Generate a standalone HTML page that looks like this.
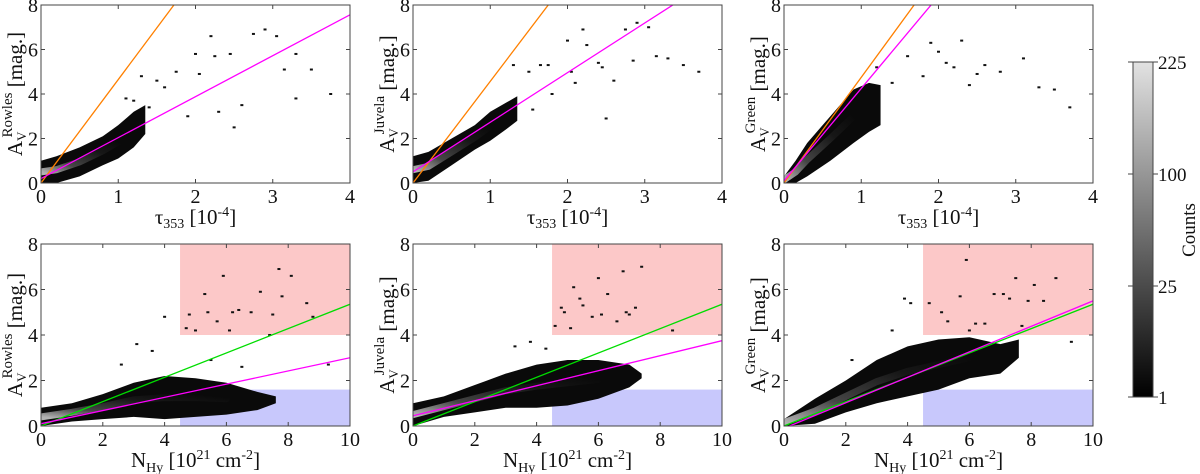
<!DOCTYPE html>
<html><head><meta charset="utf-8"><style>
body{margin:0;background:#fff;}
svg{display:block;font-family:"Liberation Serif",serif;}
</style></head><body>
<svg id="fig" width="1200" height="474" viewBox="0 0 1200 474">
<defs><linearGradient id="cb" x1="0" y1="1" x2="0" y2="0"><stop offset="0" stop-color="#000"/><stop offset="1" stop-color="#e2e2e2"/></linearGradient>
<linearGradient id="core" x1="0" y1="1" x2="1" y2="0"><stop offset="0" stop-color="#ddd"/><stop offset="0.3" stop-color="#555"/><stop offset="0.7" stop-color="#1a1a1a"/><stop offset="1" stop-color="#0a0a0a"/></linearGradient></defs>
</svg>
<script>
// ---- data ----
const panelNames=["Rowles","Juvela","Green","Rowles","Juvela","Green"];
const xMax=[4,4,4,10,10,10];
// band envelope: x, lower y, upper y
const bandX=[[0,0.2,0.5,0.8,1.0,1.2,1.35],[0,0.2,0.5,0.8,1.0,1.2,1.35],[0,0.15,0.3,0.6,0.9,1.1,1.25],[0,1,2,3,4,5,6,7,7.6],[0,1,2,3,4,5,6,7,7.4],[0,1,2,3,4,5,6,7,7.6]];
const bandLo=[[0,0,0.3,0.8,1.1,1.6,2.2],[0,0.1,0.8,1.5,1.9,2.4,2.8],[0,0,0.3,1.0,1.8,2.3,2.6],[0,0.2,0.3,0.4,0.3,0.4,0.5,0.7,1.0],[0,0.4,0.6,0.8,0.8,0.9,1.2,1.7,2.1],[0,0.1,0.6,1.0,1.3,1.6,2.1,2.3,3.0]];
const bandHi=[[1.0,1.2,1.6,2.1,2.6,3.2,3.5],[1.2,1.4,2.0,2.6,3.2,3.6,3.9],[0.3,1.0,1.8,3.0,4.2,4.5,4.4],[0.8,1.0,1.4,1.9,2.2,2.1,1.9,1.5,1.3],[1.0,1.3,1.8,2.3,2.7,2.9,2.9,2.7,2.3],[0.3,1.2,2.0,2.9,3.5,3.8,3.9,3.6,3.8]];
// outlier points
const ptX=[[1.1,1.3,1.5,1.6,1.75,2.0,2.05,2.2,2.25,2.45,2.5,2.6,2.75,2.9,3.05,3.15,3.3,3.3,3.5,3.75,1.9,1.2,1.4,2.3],[1.3,1.5,1.65,1.8,2.0,2.05,2.2,2.25,2.4,2.45,2.6,2.75,2.85,2.9,3.05,3.15,3.3,3.5,3.7,2.5,2.1,1.75,1.55],[1.2,1.4,1.6,1.8,2.0,2.1,2.3,2.5,2.6,2.8,3.1,3.3,3.5,1.9,2.2,2.4,3.7],[4.0,4.8,5.0,5.3,5.4,5.9,6.2,6.4,6.8,7.1,7.5,7.7,7.8,8.1,8.6,8.8,5.7,6.1,4.7,7.4,9.3,3.1,3.6,2.6,5.5,6.5],[4.6,4.9,5.2,5.5,5.8,6.0,6.3,6.6,6.9,7.2,7.4,5.1,5.4,6.8,7.0,8.4,4.8,6.1,3.3,3.8,4.3],[3.9,4.1,4.7,5.1,5.7,5.9,6.2,6.5,6.8,7.1,7.3,7.5,7.9,8.1,8.4,8.8,5.3,6.0,7.7,9.3,2.2,3.5]];
const ptY=[[3.8,4.8,4.6,4.3,5.0,5.8,4.9,6.6,5.7,5.8,2.5,3.5,6.7,6.9,6.6,5.1,5.8,3.8,5.1,4.0,3.0,3.7,3.4,3.2],[5.3,5.0,5.3,4.0,6.4,5.0,6.9,6.2,5.4,5.2,4.6,6.9,5.5,7.2,7.0,5.7,5.6,5.3,5.0,2.9,4.5,5.3,3.3],[5.2,4.5,5.7,4.8,5.9,5.4,6.4,4.9,5.3,5.0,5.6,4.3,4.2,6.3,5.2,4.4,3.4],[4.8,4.9,4.2,5.8,5.0,6.6,5.0,5.1,5.0,5.9,4.9,6.9,5.7,6.6,5.4,4.8,4.6,4.2,4.3,4.0,2.7,3.6,3.3,2.7,2.9,2.6],[4.4,5.0,6.1,5.3,4.8,6.5,5.8,4.6,5.0,5.2,7.0,4.3,5.6,6.8,4.9,4.2,5.2,4.9,3.5,3.7,3.4],[5.6,5.4,5.4,5.0,5.7,7.3,4.5,4.5,5.8,5.8,5.6,6.5,5.5,6.2,5.5,6.5,4.6,4.2,4.4,3.7,2.9,4.2]];
// fit lines: [slope, intercept]
const orangeFit=[[4.65,0],[4.57,0],[4.75,0],null,null,null];
const magentaFit=[[1.84,0.2],[2.23,0.5],[4.15,0.1],[0.29,0.1],[0.33,0.45],[0.56,-0.1]];
const greenFit=[null,null,null,[0.535,0],[0.535,0],[0.535,0]];
const xTicks=[[0,1,2,3,4],[0,2,4,6,8,10]];
const yTicks=[0,2,4,6,8];
const cbTicks=["225","100","25","1"];

// ---- drawing ----
const NS="http://www.w3.org/2000/svg",svg=document.getElementById("fig");
function mk(tag,at,parent){const e=document.createElementNS(NS,tag);for(const k in at)e.setAttribute(k,at[k]);(parent||svg).appendChild(e);return e;}
const colX=[41,413,784],W=309,rowY=[[5,183],[244,426]];
for(let p=0;p<6;p++){
  const c=p%3,r=Math.floor(p/3),x0=colX[c],yT=rowY[r][0],yB=rowY[r][1],xm=xMax[p];
  const sx=v=>x0+v/xm*W, sy=v=>yB-v/8*(yB-yT);
  const g=mk("g",{});
  
  
  const clip=mk("clipPath",{id:"c"+p},g);mk("rect",{x:x0,y:yT,width:W,height:yB-yT},clip);
  const pg=mk("g",{"clip-path":"url(#c"+p+")"},g);
  if(r===1){
    const red=mk("rect",{x:sx(4.5),y:sy(8),width:sx(10)-sx(4.5),height:sy(4)-sy(8),fill:"#fcc8c8"},pg);
    
    
    const blue=mk("rect",{x:sx(4.5),y:sy(1.6),width:sx(10)-sx(4.5),height:sy(0)-sy(1.6),fill:"#c8c8fc"},pg);
    
    
  }
  let pts=[];
  for(let i=0;i<bandX[p].length;i++)pts.push(sx(bandX[p][i])+","+sy(bandHi[p][i]));
  for(let i=bandX[p].length-1;i>=0;i--)pts.push(sx(bandX[p][i])+","+sy(bandLo[p][i]));
  const band=mk("polygon",{points:pts.join(" "),fill:"#0a0a0a"},pg);
  
  
  let mid=[];const n=bandX[p].length;
  for(let i=0;i<n-2;i++)mid.push(sx(bandX[p][i])+","+sy((bandLo[p][i]+bandHi[p][i])/2));
  const core=mk("polyline",{points:mid.join(" "),fill:"none",stroke:"url(#core)","stroke-width":7,"stroke-linecap":"round",opacity:0.8},pg);
  
  
  for(let i=0;i<ptX[p].length;i++){
    const d=mk("rect",{x:sx(ptX[p][i])-1.5,y:sy(ptY[p][i])-1,width:3,height:2,fill:"#111"},pg);
    
    
  }
  const fits=[[orangeFit[p],"#ff8000","orange-fit-line"],[magentaFit[p],"#ff00ff","magenta-fit-line"],[greenFit[p],"#00dd00","green-fit-line"]];
  if(r===1)fits.reverse();
  for(const [f,col,nm] of fits){ if(!f)continue;
    const l=mk("line",{x1:sx(0),y1:sy(f[1]),x2:sx(xm),y2:sy(f[1]+f[0]*xm),stroke:col,"stroke-width":1.3},pg);
    
    
  }
  const fr=mk("rect",{x:x0,y:yT,width:W,height:yB-yT,fill:"none",stroke:"#444","stroke-width":1},g);
  
  
  const xt=xTicks[r];
  for(const t of xt){
    mk("line",{x1:sx(t),x2:sx(t),y1:yB,y2:yB-4,stroke:"#444"},g);
    mk("line",{x1:sx(t),x2:sx(t),y1:yT,y2:yT+4,stroke:"#444"},g);
    const tl=mk("text",{x:sx(t),y:yB+20,"font-size":20,"text-anchor":"middle",fill:"#111"},g);tl.textContent=t;
    
    
  }
  for(const t of yTicks){
    mk("line",{x1:x0,x2:x0+4,y1:sy(t),y2:sy(t),stroke:"#444"},g);
    mk("line",{x1:x0+W,x2:x0+W-4,y1:sy(t),y2:sy(t),stroke:"#444"},g);
    const tl=mk("text",{x:x0-3,y:sy(t)+7,"font-size":20,"text-anchor":"end",fill:"#111"},g);tl.textContent=t;
    
    
  }
  const yl=mk("text",{transform:`translate(${x0-19},${(yT+yB)/2}) rotate(-90)`,"font-size":21,"text-anchor":"middle",fill:"#111"},g);
  yl.innerHTML=`A<tspan font-size="13" dy="4">V</tspan><tspan font-size="15" dy="-14" dx="-6">${panelNames[p]}</tspan><tspan dy="10"> [mag.]</tspan>`;
  
  
  const xl=mk("text",{x:x0+W/2,y:yB+41,"font-size":21,"text-anchor":"middle",fill:"#111"},g);
  xl.innerHTML= r===0 ? `τ<tspan font-size="14" dy="4">353</tspan><tspan dy="-4"> [10</tspan><tspan font-size="14" dy="-8">-4</tspan><tspan dy="8">]</tspan>`
    : `N<tspan font-size="14" dy="5">Hy</tspan><tspan dy="-5"> [10</tspan><tspan font-size="14" dy="-8">21</tspan><tspan dy="8"> cm</tspan><tspan font-size="14" dy="-8">-2</tspan><tspan dy="8">]</tspan>`;
  
  
}
// colorbar
const cb=mk("rect",{x:1133,y:62,width:20,height:335,fill:"url(#cb)",stroke:"#444","stroke-width":1});


const cbY=[62,174,286,397];
for(let i=0;i<cbTicks.length;i++){
  mk("line",{x1:1128,x2:1133,y1:cbY[i],y2:cbY[i],stroke:"#444"});
  mk("line",{x1:1153,x2:1158,y1:cbY[i],y2:cbY[i],stroke:"#444"});
  const t=mk("text",{x:1158,y:cbY[i]+7,"font-size":19,fill:"#111"});t.textContent=cbTicks[i];
  
  
}
const ct=mk("text",{transform:"translate(1195,230) rotate(-90)","font-size":19,"text-anchor":"middle",fill:"#111"});ct.textContent="Counts";


</script>
</body></html>
